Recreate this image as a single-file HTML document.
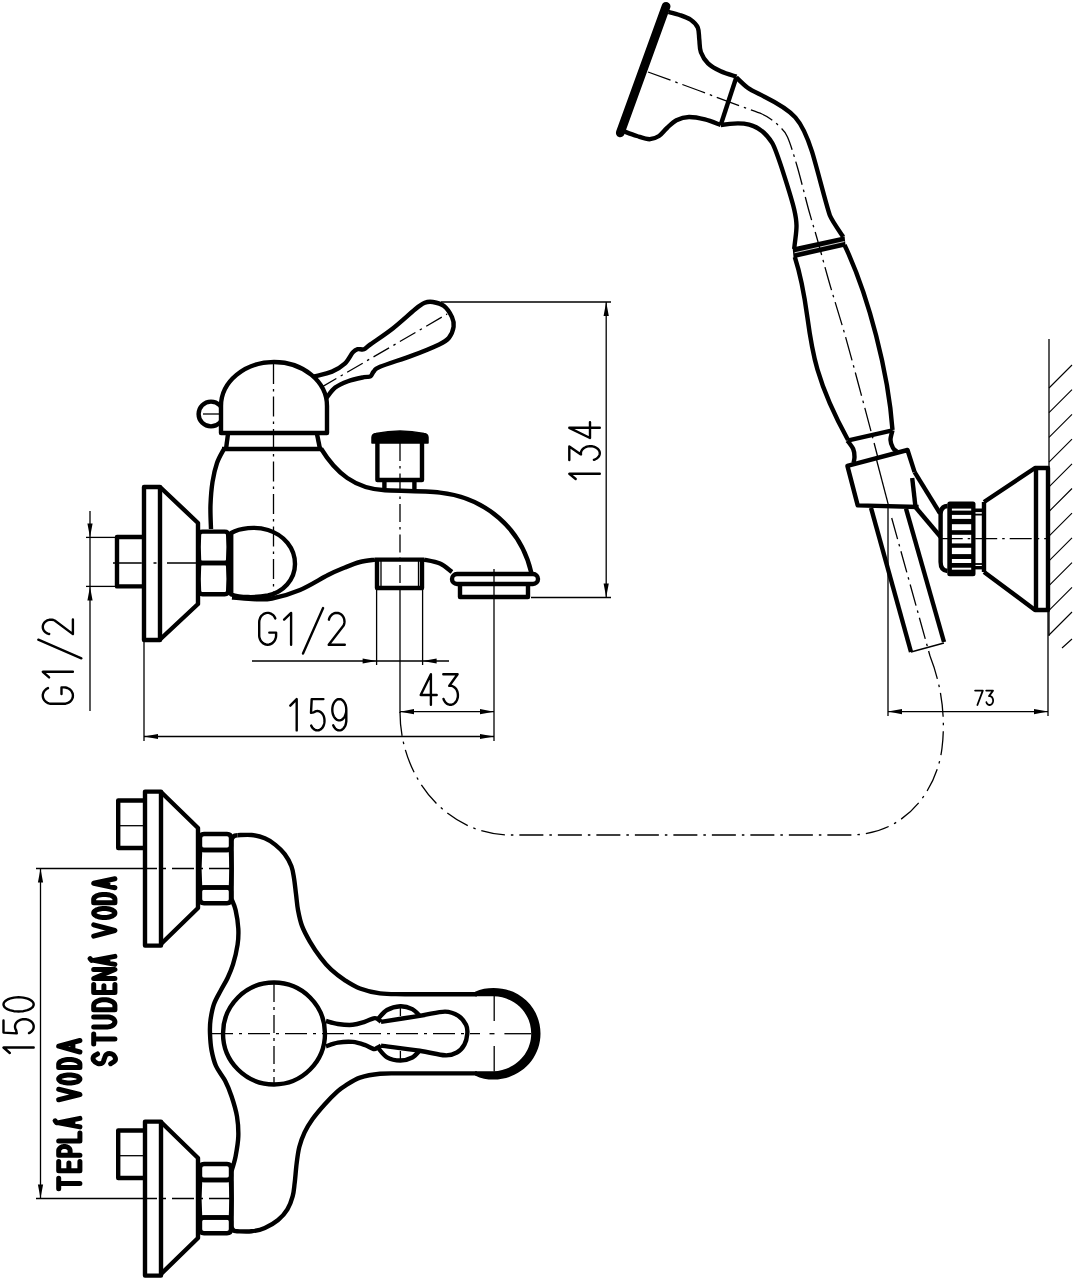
<!DOCTYPE html>
<html><head><meta charset="utf-8"><style>
html,body{margin:0;padding:0;background:#fff;width:1075px;height:1280px;overflow:hidden;font-family:"Liberation Sans",sans-serif;}
svg{display:block}
</style></head><body>
<svg width="1075" height="1280" viewBox="0 0 1075 1280" stroke="#000" fill="none" stroke-linejoin="round">
<rect x="0" y="0" width="1075" height="1280" fill="#fff" stroke="none"/>
<path d="M143,537 L117,537 L117,586.4 L143,586.4" stroke-width="4.4" fill="none"/>
<path d="M144,487 L160,487 L160,640 L144,640Z" stroke-width="4.4" fill="none"/>
<path d="M160,487 L198,523 L198,604 L160,639.5" stroke-width="4.4" fill="none"/>
<path d="M202.5,531.6 H224.7 Q228.2,531.6 228.2,535.1 Q229,547.3 228.2,559.5 Q228.2,563 224.7,563 H202.5 Q199,563 199,559.5 Q198.2,547.3 199,535.1 Q199,531.6 202.5,531.6Z" stroke-width="4.4" fill="none"/>
<path d="M202.5,563 H224.7 Q228.2,563 228.2,566.5 Q229,578.6 228.2,590.7 Q228.2,594.2 224.7,594.2 H202.5 Q199,594.2 199,590.7 Q198.2,578.6 199,566.5 Q199,563 202.5,563Z" stroke-width="4.4" fill="none"/>
<path d="M211,529 C210.9,525 210.2,512.8 210.5,505 C210.8,497.2 211.4,489 212.5,482 C213.6,475 215.1,468.5 217,463 C218.9,457.5 222.8,451.3 224,449" stroke-width="4.4" fill="none"/>
<path d="M228,434 L226,449" stroke-width="4.4" fill="none"/>
<path d="M317,434 L320,449" stroke-width="4.4" fill="none"/>
<path d="M222,449 L322,449" stroke-width="4.4" fill="none"/>
<circle cx="211" cy="414" r="12.4" stroke-width="4.4" fill="#fff"/>
<path d="M203,414 L222,414" stroke-width="1.3"/>
<path d="M221,433 V406 A53,44 0 0 1 327,406 V433 Z" stroke-width="4.4" fill="#fff"/>
<path d="M314.4,376.4 C317.3,375.6 326.9,373.7 332,371.6 C337.1,369.5 341.3,366.8 344.8,363.6 C348.3,360.4 350.7,354.8 352.8,352.4 C354.9,350 355.7,349.7 357.6,349.2 C359.5,348.7 361.9,350 364,349.2 C366.1,348.4 365.6,347.9 370.4,344.4 C375.2,340.9 385.3,334.3 392.8,328.4 C400.3,322.5 409.9,313.5 415.2,309.2 C420.5,304.9 421.9,304 424.8,302.8 C427.7,301.6 429.6,301.5 432.8,302 C436,302.5 440.8,303.5 444,306 C447.2,308.5 450.4,313.7 452,317.2 C453.6,320.7 454.1,323.3 453.6,326.8 C453.1,330.3 451.2,335.1 448.8,338 C446.4,340.9 445.3,341.5 439.2,344.4 C433.1,347.3 421.9,351.9 412,355.6 C402.1,359.3 386.4,364.1 380,366.8 C373.6,369.5 375.2,370 373.6,371.6 C372,373.2 372,375.5 370.4,376.4 C368.8,377.3 367.7,376.4 364,377.2 C360.3,378 352.8,379.5 348,381.2 C343.2,382.9 338.8,384.8 335.2,387.6 C331.6,390.4 327.9,396.3 326.5,398" stroke-width="4.4" fill="none"/>
<path d="M320.8,387.6 L447.2,314" stroke-width="1.3" fill="none" stroke-dasharray="18 5 2.5 5"/>
<path d="M321,448.5 C336,473.1 354.8,488.6 385,490.3 C395.5,490.9 425.8,491 440,492.6 C485.8,497.7 521.2,528.4 531.4,573" stroke-width="4.4" fill="none"/>
<path d="M372,443 V437.5 Q372,434 376,433.5 Q400,428.5 424,433.5 Q428,434 428,437.5 V443 Z" fill="#000" stroke="#000" stroke-width="1.5"/>
<path d="M377.4,443 L377.4,480 L422,480 L422,443" stroke-width="4.4" fill="none"/>
<path d="M384.4,480 L384.4,490" stroke-width="4.4" fill="none"/>
<path d="M414.4,480 L414.4,491" stroke-width="4.4" fill="none"/>
<path d="M231.2,533 C240,528 255,526 268,530 C284,535 295,548 295,564 C295,580 283,592 268,595.5 C255,598 240,597.5 231.2,594.5 Z" stroke-width="4.4" fill="none"/>
<path d="M232,597.5 C235.3,597.8 245.3,598.8 252,599 C258.7,599.2 264,600 272,598.5 C280,597 290.7,593.9 300,590 C309.3,586.1 320.5,578.8 328,575 C335.5,571.2 339.7,569.7 345,567.5 C350.3,565.3 355,563.3 360,562 C365,560.7 372.5,560 375,559.6" stroke-width="4.4" fill="none"/>
<path d="M375,559.6 L424,559.6" stroke-width="4.4" fill="none"/>
<path d="M424,559.6 C426.7,560.2 435.3,561.4 440,563.5 C444.7,565.6 450,570.6 452,572" stroke-width="4.4" fill="none"/>
<path d="M377,559.6 L377,588 L422,588 L422,559.6" stroke-width="4.4" fill="none"/>
<path d="M381,561 L381,587" stroke-width="1.3"/>
<path d="M418.5,561 L418.5,587" stroke-width="1.3"/>
<path d="M457,574 H533 A5,5 0 0 1 533,584 H457 A5,5 0 0 1 457,574 Z" stroke-width="4.4" fill="#fff"/>
<path d="M460,586 L460,597 L528,597 L528,586" stroke-width="4.4" fill="none"/>
<path d="M273.5,364 V600" stroke-width="1.3" fill="none" stroke-dasharray="20 5 2.5 5"/>
<path d="M113,563 H196" stroke-width="1.3" fill="none" stroke-dasharray="28.8 11.7 3 10.5 29"/>
<path d="M400,443 V587" stroke-width="1.3" fill="none" stroke-dasharray="18 5 2.5 5"/>
<path d="M441,302 L611,302" stroke-width="1.3"/>
<path d="M531,597.5 L611,597.5" stroke-width="1.3"/>
<path d="M606.2,302 L606.2,597.5" stroke-width="1.3"/>
<path d="M606.2,302 L608.8,316 L603.6,316 Z" fill="#000" stroke="none"/>
<path d="M606.2,597.5 L603.6,583.5 L608.8,583.5 Z" fill="#000" stroke="none"/>
<path d="M376.6,589 L376.6,665" stroke-width="1.3"/>
<path d="M422.6,589 L422.6,665" stroke-width="1.3"/>
<path d="M252,661 L449,661" stroke-width="1.3"/>
<path d="M376.6,661 L362.6,663.6 L362.6,658.4 Z" fill="#000" stroke="none"/>
<path d="M422.6,661 L436.6,658.4 L436.6,663.6 Z" fill="#000" stroke="none"/>
<path d="M400,589 L400,713" stroke-width="1.3"/>
<path d="M494,569 L494,741" stroke-width="1.3"/>
<path d="M400,711.7 L494,711.7" stroke-width="1.3"/>
<path d="M400,711.7 L414,709.1 L414,714.3 Z" fill="#000" stroke="none"/>
<path d="M494,711.7 L480,714.3 L480,709.1 Z" fill="#000" stroke="none"/>
<path d="M144,641 L144,741" stroke-width="1.3"/>
<path d="M144,736.5 L494,736.5" stroke-width="1.3"/>
<path d="M144,736.5 L158,733.9 L158,739.1 Z" fill="#000" stroke="none"/>
<path d="M494,736.5 L480,739.1 L480,733.9 Z" fill="#000" stroke="none"/>
<path d="M86,537.4 L116,537.4" stroke-width="1.3"/>
<path d="M86,586.4 L116,586.4" stroke-width="1.3"/>
<path d="M90,511 L90,711" stroke-width="1.3"/>
<path d="M90,537.4 L87.4,523.4 L92.6,523.4 Z" fill="#000" stroke="none"/>
<path d="M90,586.4 L92.6,600.4 L87.4,600.4 Z" fill="#000" stroke="none"/>
<path d="M290.3,705.7 L296.7,699.1 L296.7,730.4 M323.4,699.1 L311.7,699.1 L311,712.9 L313.8,712.3 L315,711.6 L316.2,711.1 L317.4,711 L318.6,711.1 L319.8,711.6 L321,712.3 L322,713.3 L322.9,714.5 L323.6,715.8 L324.1,717.4 L324.4,719 L324.5,720.7 L324.4,722.4 L324.1,724 L323.6,725.6 L322.9,727 L322,728.2 L321,729.1 L319.8,729.8 L318.6,730.3 L317.4,730.4 L316.2,730.3 L315,729.8 L313.8,729.1 L312.8,728.2 L311.9,727 L311.2,725.6 M346.3,709.7 L346.2,707.9 L345.9,706.1 L345.4,704.4 L344.7,702.9 L343.8,701.6 L342.8,700.5 L341.7,699.7 L340.5,699.2 L339.3,699.1 L338.1,699.2 L336.9,699.7 L335.8,700.5 L334.8,701.6 L333.9,702.9 L333.2,704.4 L332.7,706.1 L332.4,707.9 L332.3,709.7 L332.4,711.6 L332.7,713.4 L333.2,715.1 L333.9,716.6 L334.8,717.9 L335.8,719 L336.9,719.8 L338.1,720.2 L339.3,720.4 L340.5,720.2 L341.7,719.8 L342.8,719 L343.8,717.9 L344.7,716.6 L345.4,715.1 L345.9,713.4 L346.2,711.6 L346.3,709.7 M346.3,709.7 L346.3,720.1 L346.3,721.6 L346,723 L345.7,724.5 L345.2,725.8 L344.5,727 L343.8,728 L343,728.9 L342.1,729.6 L341.1,730.1 L340.1,730.4 L339.1,730.4 L338.1,730.3 L337.1,729.9 L336.1,729.3 L335.3,728.6 L334.5,727.6 L333.8,726.5 L333.2,725.3" stroke-width="2.4" fill="none" stroke-linecap="round" stroke-linejoin="round"/>
<path d="M430.9,704.8 L430.9,674.2 L420.7,695 L436.7,695 M443.3,674.2 L457.6,674.2 L449.3,685.8 L449.3,685.9 L450.4,685.8 L451.5,685.9 L452.6,686.2 L453.6,686.7 L454.6,687.4 L455.5,688.3 L456.3,689.3 L456.9,690.5 L457.4,691.8 L457.7,693.1 L457.9,694.5 L457.9,696 L457.8,697.4 L457.4,698.7 L457,700 L456.3,701.2 L455.6,702.2 L454.7,703.1 L453.8,703.8 L452.7,704.4 L451.6,704.7 L450.5,704.8 L449.4,704.7 L448.3,704.4 L447.3,703.9 L446.3,703.2 L445.4,702.4 L444.7,701.3 L444,700.2 L443.5,698.9" stroke-width="2.4" fill="none" stroke-linecap="round" stroke-linejoin="round"/>
<path d="M275.3,618.4 L274.6,617 L273.7,615.7 L272.6,614.7 L271.4,613.9 L270.1,613.3 L268.7,612.9 L267.2,612.9 L265.8,613.1 L264.4,613.6 L263.2,614.3 L262,615.3 L261,616.4 L260.2,617.8 L259.7,619.3 L259.3,620.8 L259.2,622.4 L259.2,635.2 L259.3,637 L259.8,638.8 L260.6,640.5 L261.7,641.9 L262.9,643.1 L264.4,644 L266,644.5 L267.6,644.7 L269.3,644.5 L270.9,644 L272.4,643.1 L273.6,641.9 L274.7,640.5 L275.5,638.8 L276,637 L276.1,635.2 L276.1,632.6 L269.3,632.6 M284.1,619.6 L291.1,612.9 L291.1,644.7 M303,653.6 L323.1,608.1 M328.9,619.7 L329.3,618.3 L329.9,617 L330.7,615.8 L331.7,614.8 L332.8,614 L334,613.4 L335.3,613 L336.7,612.9 L338,613 L339.3,613.4 L340.5,614 L341.6,614.8 L342.6,615.9 L343.4,617.1 L344,618.4 L344.3,619.8 L344.5,621.3 L344.4,622.7 L344.1,624.2 L343.6,625.5 L328.7,644.7 L344.8,644.7" stroke-width="2.4" fill="none" stroke-linecap="round" stroke-linejoin="round"/>
<path d="M575.7,479 L569.3,473.8 L599.8,473.8 M569.3,460 L569.3,446.5 L580.9,454.4 L581,454.4 L580.9,453.3 L581,452.2 L581.3,451.2 L581.8,450.2 L582.5,449.3 L583.4,448.5 L584.4,447.8 L585.6,447.2 L586.8,446.7 L588.2,446.4 L589.6,446.2 L591,446.2 L592.4,446.3 L593.7,446.6 L595,447.1 L596.2,447.7 L597.2,448.4 L598.1,449.2 L598.8,450.1 L599.4,451.1 L599.7,452.1 L599.8,453.2 L599.7,454.2 L599.4,455.3 L598.9,456.3 L598.2,457.2 L597.4,458 L596.3,458.7 L595.2,459.3 L593.9,459.8 M599.8,427.8 L569.3,427.8 L590,438 L590,422.1" stroke-width="2.4" fill="none" stroke-linecap="round" stroke-linejoin="round"/>
<path d="M48,688.1 L46.7,688.8 L45.5,689.7 L44.5,690.8 L43.7,692 L43.2,693.3 L42.8,694.6 L42.8,696 L43,697.4 L43.4,698.7 L44.1,699.9 L45.1,701.1 L46.2,702 L47.4,702.8 L48.8,703.4 L50.3,703.7 L51.8,703.8 L63.9,703.8 L65.6,703.7 L67.3,703.2 L68.9,702.4 L70.3,701.4 L71.4,700.2 L72.2,698.7 L72.8,697.2 L72.9,695.6 L72.8,694 L72.2,692.5 L71.4,691 L70.3,689.8 L68.9,688.8 L67.3,688 L65.6,687.5 L63.9,687.4 L61.5,687.4 L61.5,694 M49.1,677.4 L42.8,671.8 L72.9,671.8 M81.4,658.3 L38.3,639.7 M49.2,634 L47.9,633.6 L46.6,633.1 L45.5,632.3 L44.6,631.4 L43.8,630.4 L43.2,629.3 L42.9,628.1 L42.8,626.8 L42.9,625.6 L43.3,624.4 L43.9,623.3 L44.6,622.3 L45.6,621.4 L46.7,620.7 L48,620.2 L49.3,619.8 L50.7,619.7 L52.1,619.8 L53.5,620 L54.7,620.5 L72.9,634.1 L72.9,619.4" stroke-width="2.4" fill="none" stroke-linecap="round" stroke-linejoin="round"/>
<path d="M975.1,690.6 L982.8,690.6 L977.4,705 M986.2,690.6 L993,690.6 L989,696.1 L989.1,696.1 L989.6,696.1 L990.1,696.1 L990.6,696.3 L991.1,696.5 L991.5,696.8 L992,697.2 L992.3,697.7 L992.6,698.3 L992.8,698.9 L993,699.5 L993.1,700.2 L993.1,700.8 L993,701.5 L992.9,702.1 L992.6,702.7 L992.4,703.3 L992,703.8 L991.6,704.2 L991.1,704.5 L990.7,704.8 L990.2,704.9 L989.6,705 L989.1,705 L988.6,704.8 L988.1,704.6 L987.7,704.2 L987.2,703.8 L986.9,703.4 L986.6,702.8 L986.4,702.2" stroke-width="1.8" fill="none" stroke-linecap="round" stroke-linejoin="round"/>
<path d="M9.8,1053 L3.5,1047.5 L33.7,1047.5 M3.5,1020.4 L3.5,1032.6 L16.8,1033.4 L16.2,1030.4 L15.5,1029.2 L15.1,1027.9 L15,1026.6 L15.1,1025.4 L15.5,1024.1 L16.2,1022.9 L17.2,1021.8 L18.3,1020.9 L19.7,1020.2 L21.1,1019.6 L22.7,1019.3 L24.3,1019.2 L26,1019.3 L27.6,1019.6 L29,1020.2 L30.4,1020.9 L31.5,1021.8 L32.5,1022.9 L33.2,1024.1 L33.6,1025.4 L33.7,1026.6 L33.6,1027.9 L33.2,1029.2 L32.5,1030.4 L31.5,1031.5 L30.4,1032.4 L29,1033.1 M3.5,1004.4 L3.7,1005.5 L4.2,1006.6 L5.1,1007.6 L6.4,1008.6 L7.9,1009.4 L9.7,1010.2 L11.7,1010.7 L13.9,1011.2 L16.2,1011.4 L18.6,1011.5 L21,1011.4 L23.3,1011.2 L25.5,1010.7 L27.5,1010.2 L29.3,1009.4 L30.8,1008.6 L32.1,1007.6 L33,1006.6 L33.5,1005.5 L33.7,1004.4 L33.5,1003.3 L33,1002.2 L32.1,1001.2 L30.8,1000.2 L29.3,999.4 L27.5,998.6 L25.5,998.1 L23.3,997.6 L21,997.4 L18.6,997.3 L16.2,997.4 L13.9,997.6 L11.7,998.1 L9.7,998.6 L7.9,999.4 L6.4,1000.2 L5.1,1001.2 L4.2,1002.2 L3.7,1003.3 L3.5,1004.4" stroke-width="2.4" fill="none" stroke-linecap="round" stroke-linejoin="round"/>
<path d="M666.1,6.3 L620.3,132.8" stroke-width="8.8" stroke-linecap="round"/>
<path d="M668.5,11.9 C670.4,12.4 675.9,13.7 679.6,15 C683.3,16.3 687.7,17.7 690.7,19.8 C693.7,21.9 696.4,24.4 697.8,27.7 C699.2,31 698.8,35.4 699.3,39.5 C699.8,43.6 699.4,48.2 700.9,52.2 C702.4,56.2 704.7,60.1 708,63.3 C711.3,66.5 716,69 720.7,71.2 C725.5,73.4 733.9,75.8 736.5,76.7" stroke-width="4.4" fill="none"/>
<path d="M736.5,76.7 L720.7,125" stroke-width="4.4" fill="none"/>
<path d="M624,131.3 C626.1,132.1 632.6,134.7 636.9,136 C641.1,137.3 645.8,139.2 649.5,139.2 C653.2,139.2 656.1,137.9 659,136 C661.9,134.1 664.1,130.6 667,128 C669.9,125.4 672.7,122 676.4,120.2 C680.1,118.4 684.2,117.1 689,117 C693.8,116.9 699.6,118.1 704.9,119.4 C710.2,120.7 718.1,124.1 720.7,125" stroke-width="4.4" fill="none"/>
<path d="M736.3,77.4 C749.2,90.1 748,88.5 764.5,96.7 C793.6,111.2 801.7,119 812,151.7 C816.1,164.6 827.2,208.8 829.9,215.5 C832.2,221.2 840,232 843.2,236.8" stroke-width="4.4" fill="none"/>
<path d="M720.7,125 C741.5,121.6 758.7,121.5 772,142.7 C777,150.6 792.1,200.4 794.2,209.5 C798.4,227.6 795.9,231.3 794.2,249" stroke-width="4.4" fill="none"/>
<path d="M792.6,247.6 L844.6,236.2 L845.6,246.6 L793.6,258.2 Z" fill="#000" stroke="none"/>
<path d="M794.5,252.8 L844.5,241.5" stroke-width="0.8" stroke="#fff"/>
<path d="M794.8,257 C815.8,321.6 798,349.7 848,440" stroke-width="4.4" fill="none"/>
<path d="M844.5,245 C868.7,295.9 888.5,373.4 892.5,430" stroke-width="4.4" fill="none"/>
<path d="M847.4,440.6 L892.5,430.3" stroke-width="4.4" fill="none"/>
<path d="M847.4,440.6 C848.4,442 852,446.3 853.2,449 C854.4,451.7 854.5,454.7 854.5,457 C854.5,459.3 853.7,462 853.5,463" stroke-width="4.4" fill="none"/>
<path d="M892.5,430.3 C892.2,431.9 890.4,437.1 890.5,440 C890.6,442.9 891.9,446.1 893,448 C894.1,449.9 896.3,451 897,451.6" stroke-width="4.4" fill="none"/>
<path d="M914.6,472.2 L907.5,450 L847.4,465.9 L857.7,505.4 L918.6,507" stroke-width="4.4" fill="none"/>
<path d="M912.2,478 L915.4,506.2" stroke-width="4.4" fill="none"/>
<path d="M914.6,472.2 L940,513.3" stroke-width="4.4" fill="none"/>
<path d="M915.4,507 L940.7,537" stroke-width="4.4" fill="none"/>
<path d="M871,507.8 L911,652" stroke-width="4.4" fill="none"/>
<path d="M906,508.6 L944,642" stroke-width="4.4" fill="none"/>
<path d="M911,652 L944,643" stroke-width="1.3"/>
<path d="M648,72 C656.7,75.2 684.7,85.3 700,91 C715.3,96.7 729.7,102.2 740,106 C750.3,109.8 756.7,111.7 762,114 C767.3,116.3 769,117.8 772,120 C775,122.2 777.4,124.2 780,127 C782.6,129.8 784.6,130.4 787.5,137 C790.4,143.6 793.6,154.2 797.2,166.5 C800.8,178.8 805.6,198.8 809,211 C812.4,223.2 814,227.7 817.5,240 C821,252.3 825.4,269.2 830,285 C834.6,300.8 840,317.5 845,335 C850,352.5 855.5,373.3 860,390 C864.5,406.7 869,423.7 872,435 C875,446.3 877,454.2 878,458" stroke-width="1.3" fill="none" stroke-dasharray="24 5 2.5 5"/>
<path d="M876.6,460 L888.5,505.4" stroke-width="1.3"/>
<path d="M891.7,518 L930,656" stroke-width="1.3" fill="none" stroke-dasharray="22 5 2.5 5"/>
<path d="M947.5,506 Q940.6,506.5 940.6,514 V562 Q940.6,570.5 947.5,571" stroke-width="4.4" fill="none"/>
<path d="M984,502 L984,572" stroke-width="4.4" fill="none"/>
<path d="M984,502 L1035,468 L1048,468 L1048,610 L1035,610 L984,572" stroke-width="4.4" fill="none"/>
<path d="M1036,468 L1036,610" stroke-width="4.4" fill="none"/>
<path d="M975,510.3 L984,510.3" stroke-width="3.6"/>
<path d="M975,514.6 L984,514.6" stroke-width="1.8"/>
<path d="M975,564 L984,564" stroke-width="1.8"/>
<path d="M975,567.7 L984,567.7" stroke-width="3.4"/>
<rect x="947.3" y="501.6" width="28.2" height="74.7" rx="2.5" fill="#000" stroke="none"/>
<rect x="951.9" y="508.6" width="19.3" height="2" fill="#fff" stroke="none"/>
<rect x="951.9" y="514.9" width="19.3" height="4" fill="#fff" stroke="none"/>
<rect x="951.9" y="524.2" width="19.3" height="6" fill="#fff" stroke="none"/>
<rect x="951.9" y="534.8" width="19.3" height="8.6" fill="#fff" stroke="none"/>
<rect x="951.9" y="547.8" width="19.3" height="6.3" fill="#fff" stroke="none"/>
<rect x="951.9" y="559" width="19.3" height="4" fill="#fff" stroke="none"/>
<rect x="951.9" y="567.7" width="19.3" height="2" fill="#fff" stroke="none"/>
<path d="M940.7,538.6 H1047" stroke-width="1.3" fill="none" stroke-dasharray="22 5 2.5 5"/>
<path d="M1049,339 L1049,636" stroke-width="1.3"/>
<path d="M1049,388 L1072,365 M1049,412.7 L1072,389.7 M1049,437.4 L1072,414.4 M1049,462.1 L1072,439.1 M1049,486.8 L1072,463.8 M1049,511.5 L1072,488.5 M1049,536.2 L1072,513.2 M1049,560.9 L1072,537.9 M1049,585.6 L1072,562.6 M1049,610.3 L1072,587.3 M1049,635 L1072,612 M1062,648 L1072,639" stroke-width="1.1"/>
<path d="M888,505 L888,716" stroke-width="1.3"/>
<path d="M1048,612 L1048,716" stroke-width="1.3"/>
<path d="M888,711.6 L1048,711.6" stroke-width="1.3"/>
<path d="M888,711.6 L902,709 L902,714.2 Z" fill="#000" stroke="none"/>
<path d="M1048,711.6 L1034,714.2 L1034,709 Z" fill="#000" stroke="none"/>
<path d="M930,656 C941,684 946,716 942,748 C937,790 905,835 850,835 L510,835 A110,123 0 0 1 400,712" stroke-width="1.3" fill="none" stroke-dasharray="24 6 2.5 6"/>
<path d="M143,800.5 L118.2,800.5 L118.2,848 L143,848" stroke-width="4.4" fill="none"/>
<path d="M118.2,825.7 L143,825.7" stroke-width="1.3"/>
<path d="M145,791.6 L161,791.6 L161,945.6 L145,945.6Z" stroke-width="4.4" fill="none"/>
<path d="M161,792 L198,828 L198,908 L161,944" stroke-width="4.4" fill="none"/>
<path d="M204,834 H227 Q231,834 231,838 Q231,842 231,846 Q231,850 227,850 H204 Q200,850 200,846 Q200,842 200,838 Q200,834 204,834Z" stroke-width="4.4" fill="none"/>
<path d="M202,850 H229 Q231,850 231,852 Q232.2,868.8 231,885.5 Q231,887.5 229,887.5 H202 Q200,887.5 200,885.5 Q198.8,868.8 200,852 Q200,850 202,850Z" stroke-width="4.4" fill="none"/>
<path d="M204,887.5 H227 Q231,887.5 231,891.5 Q231,895.4 231,899.3 Q231,903.3 227,903.3 H204 Q200,903.3 200,899.3 Q200,895.4 200,891.5 Q200,887.5 204,887.5Z" stroke-width="4.4" fill="none"/>
<path d="M36,868.5 L135,868.5" stroke-width="1.3"/>
<path d="M135,868.5 H232" stroke-width="1.3" fill="none" stroke-dasharray="22 6 3 6"/>
<path d="M143,1130.5 L118.2,1130.5 L118.2,1178 L143,1178" stroke-width="4.4" fill="none"/>
<path d="M118.2,1155.7 L143,1155.7" stroke-width="1.3"/>
<path d="M145,1121.6 L161,1121.6 L161,1275.6 L145,1275.6Z" stroke-width="4.4" fill="none"/>
<path d="M161,1122 L198,1158 L198,1238 L161,1274" stroke-width="4.4" fill="none"/>
<path d="M204,1164 H227 Q231,1164 231,1168 Q231,1172 231,1176 Q231,1180 227,1180 H204 Q200,1180 200,1176 Q200,1172 200,1168 Q200,1164 204,1164Z" stroke-width="4.4" fill="none"/>
<path d="M202,1180 H229 Q231,1180 231,1182 Q232.2,1198.8 231,1215.5 Q231,1217.5 229,1217.5 H202 Q200,1217.5 200,1215.5 Q198.8,1198.8 200,1182 Q200,1180 202,1180Z" stroke-width="4.4" fill="none"/>
<path d="M204,1217.5 H227 Q231,1217.5 231,1221.5 Q231,1225.4 231,1229.3 Q231,1233.3 227,1233.3 H204 Q200,1233.3 200,1229.3 Q200,1225.4 200,1221.5 Q200,1217.5 204,1217.5Z" stroke-width="4.4" fill="none"/>
<path d="M36,1198.5 L135,1198.5" stroke-width="1.3"/>
<path d="M135,1198.5 H232" stroke-width="1.3" fill="none" stroke-dasharray="22 6 3 6"/>
<path d="M231.6,899 V841 Q231.6,835.2 237.5,835.2" stroke-width="4.4" fill="none"/>
<path d="M237.5,835.2 C239.8,835.2 246.9,834.5 251.5,835 C256.1,835.5 260.8,836.6 264.8,838.3 C268.8,839.9 272.1,842.2 275.4,844.9 C278.7,847.5 282,850.7 284.7,854.2 C287.4,857.8 289.8,862.2 291.4,866.2 C292.9,870.2 293.2,873.5 294,878.1 C294.8,882.7 295.3,888.7 296,894 C296.7,899.3 297,904.7 298,910 C299,915.3 300,920.6 302,925.9 C304,931.2 306.9,936.5 310,941.8 C313.1,947.1 317.1,953.1 320.6,957.7 C324.1,962.4 327.1,965.9 331.2,969.7 C335.3,973.5 340.2,977.2 345,980.3 C349.8,983.4 354.2,986.3 360,988.5 C365.8,990.7 372.5,992.4 380,993.4 C387.5,994.4 388.8,994.1 405,994.2 C421.2,994.3 465,994.2 477,994.2" stroke-width="4.4" fill="none"/>
<path d="M231.6,899.3 C232.3,901.1 234.5,905.1 235.6,910 C236.7,914.9 238,922.8 238.3,928.5 C238.6,934.2 238.5,938.5 237.6,944.5 C236.7,950.5 234.7,958.9 233,964.4 C231.3,969.9 229.7,973.4 227.7,977.7 C225.7,982 223.3,985.6 221,990 C218.7,994.4 215.8,999 214,1004 C212.2,1009 211.2,1015.1 210.5,1020 C209.8,1024.9 209.8,1028.6 210,1033.6 C210.2,1038.6 210.5,1044.6 211.5,1050 C212.5,1055.4 213.8,1060.9 216,1066 C218.2,1071.1 222.4,1075.5 225,1080.6 C227.6,1085.7 229.6,1090.5 231.6,1096.5 C233.6,1102.5 235.9,1109.8 237,1116.5 C238.1,1123.2 238.5,1129.8 238.3,1136.4 C238.1,1143 236.7,1150.5 235.6,1156.3 C234.5,1162 232.3,1168.5 231.6,1170.9" stroke-width="4.4" fill="none"/>
<path d="M231.6,1166 V1226 Q231.6,1231.3 237,1231.3" stroke-width="4.4" fill="none"/>
<path d="M237,1231.3 C239.4,1231.3 246.9,1231.8 251.5,1231.3 C256.1,1230.8 260.4,1229.9 264.8,1228 C269.2,1226.1 274.3,1223.1 278.1,1220 C281.9,1216.9 285,1213.4 287.4,1209.4 C289.8,1205.4 291.5,1200.5 292.7,1196.1 C293.9,1191.7 294,1188.3 294.7,1182.8 C295.4,1177.3 295.9,1169 296.7,1163 C297.5,1157 298,1152.1 299.3,1147 C300.6,1141.9 302.4,1137.1 304.6,1132.4 C306.8,1127.8 309.3,1123.8 312.6,1119.1 C315.9,1114.4 320.4,1109.2 324.6,1104.5 C328.8,1099.8 334.4,1094.3 337.8,1091.2 C341.2,1088.1 341.3,1088 345,1085.8 C348.7,1083.5 354.2,1079.7 360,1077.7 C365.8,1075.7 372.5,1074.5 380,1073.8 C387.5,1073.1 388.8,1073.5 405,1073.4 C421.2,1073.3 465,1073.4 477,1073.4" stroke-width="4.4" fill="none"/>
<path d="M475,991.7 C481,989 487,988 493.5,988 C520,988 540.5,1008 540.5,1033.6 C540.5,1059 520,1079.6 493.5,1079.6 C487,1079.6 481,1078.5 475,1075.4 L475,1071.3 L493.5,1071.3 C515,1070.5 531.2,1054 531.2,1033.6 C531.2,1013 515,996.8 493.5,996.3 L475,996.3 Z" fill="#000" stroke="none"/>
<path d="M494.2,996 L494.2,1021" stroke-width="1.3"/>
<path d="M494.2,1046 L494.2,1071.5" stroke-width="1.3"/>
<path d="M489.5,1033.7 L494.5,1033.7" stroke-width="1.3"/>
<circle cx="274" cy="1033.5" r="51" stroke-width="4.4" fill="none"/>
<path d="M326,1021 C328,1021.5 333.4,1023.4 337.9,1024 C342.3,1024.6 348.2,1025.2 352.7,1024.8 C357.1,1024.4 361.1,1022.9 364.6,1021.8 C368.1,1020.7 371.5,1018.8 373.6,1018.3 C375.7,1017.8 376.1,1018.2 377.3,1018.8 C378.5,1019.4 380.4,1021.3 381,1021.8" stroke-width="4.4" fill="none"/>
<path d="M326,1046.3 C328,1045.7 333.4,1043.3 337.9,1042.6 C342.3,1041.9 348.2,1041.5 352.7,1041.9 C357.1,1042.3 361.1,1043.7 364.6,1044.9 C368.1,1046.1 371.5,1048.5 373.6,1049 C375.7,1049.5 376.1,1048.4 377.3,1047.8 C378.5,1047.2 380.4,1046 381,1045.6" stroke-width="4.4" fill="none"/>
<path d="M381,1021.8 C387.4,1020.8 409,1017.5 419.7,1015.8 C430.4,1014.1 438.6,1011.6 445,1011.6 C451.4,1011.6 454.9,1013.6 458.4,1015.8 C461.9,1018 464.5,1021.8 466,1024.8 C467.5,1027.8 467.6,1030.4 467.3,1033.7 C467,1037 466.1,1041.5 464.4,1044.6 C462.7,1047.7 460.1,1050.7 456.9,1052.5 C453.7,1054.3 451.2,1055.6 445,1055.3 C438.8,1055 430.4,1052.4 419.7,1050.8 C409,1049.2 387.4,1046.5 381,1045.6" stroke-width="4.4" fill="none"/>
<path d="M378,1019 C379.5,1017.5 383.3,1012.1 387,1010 C390.7,1007.9 396.2,1006.4 400.4,1006.2 C404.6,1006.1 409.1,1007.5 412.3,1009.1 C415.5,1010.7 418.5,1014.7 419.7,1015.8" stroke-width="4.4" fill="none"/>
<path d="M378,1047.8 C379.5,1049.4 383.3,1055.2 387,1057.3 C390.7,1059.4 396.2,1060.5 400.4,1060.5 C404.6,1060.5 409.1,1059.2 412.3,1057.5 C415.5,1055.8 418.5,1051.7 419.7,1050.5" stroke-width="4.4" fill="none"/>
<path d="M400.4,1008 L400.4,1016" stroke-width="1.3"/>
<path d="M400.4,1051 L400.4,1059" stroke-width="1.3"/>
<path d="M211,1033.7 H480" stroke-width="1.3" fill="none" stroke-dasharray="22 6 3 6"/>
<path d="M504.4,1033.7 L531.2,1033.7" stroke-width="1.3"/>
<path d="M274,984 V1085" stroke-width="1.3" fill="none" stroke-dasharray="18 5 3 5"/>
<path d="M40.5,868.5 L40.5,1198.5" stroke-width="1.3"/>
<path d="M40.5,868.5 L43.1,882.5 L37.9,882.5 Z" fill="#000" stroke="none"/>
<path d="M40.5,1198.5 L37.9,1184.5 L43.1,1184.5 Z" fill="#000" stroke="none"/>
<path d="M97.5,1054 C96.9,1054.4 94.3,1055.3 93.7,1056.4 C93.1,1057.5 93,1059.5 93.7,1060.6 C94.4,1061.8 96.5,1063.2 97.9,1063.6 C99.4,1063.9 101.5,1063.5 102.6,1062.7 C103.7,1061.9 103.7,1060.1 104.3,1058.8 C104.9,1057.4 105.2,1055.4 106.4,1054.5 C107.6,1053.7 110.1,1053.5 111.5,1053.9 C112.9,1054.3 114.3,1055.7 114.9,1056.9 C115.5,1058 115.6,1059.7 114.9,1060.8 C114.2,1062 111.4,1063.2 110.7,1063.7 M93.7,1044.1 L93.7,1034.1 M93.7,1039.1 L114.9,1039.1 M93.7,1026.9 L107.3,1026.9 L108.6,1026.8 L109.9,1026.6 L111.1,1026.2 L112.2,1025.7 L113.1,1025.1 L113.9,1024.4 L114.4,1023.6 L114.8,1022.8 L114.9,1021.9 L114.8,1021 L114.4,1020.2 L113.9,1019.4 L113.1,1018.7 L112.2,1018.1 L111.1,1017.6 L109.9,1017.2 L108.6,1017 L107.3,1016.9 L93.7,1016.9 M93.7,1005.5 L93.7,1009.7 L114.9,1009.7 L114.9,1005.5 L114.7,1004.5 L114.3,1003.5 L113.5,1002.6 L112.4,1001.8 L111.1,1001.1 L109.6,1000.5 L107.9,1000 L106.1,999.8 L104.3,999.7 L102.5,999.8 L100.7,1000 L99,1000.5 L97.5,1001.1 L96.2,1001.8 L95.1,1002.6 L94.3,1003.5 L93.9,1004.5 L93.7,1005.5 M93.7,984.5 L93.7,992.5 L114.9,992.5 L114.9,984.5 M103.9,992.5 L103.9,985.7 M114.9,978.5 L93.7,978.5 L114.9,969.5 L93.7,969.5 M114.9,964.4 L93.7,960.4 L114.9,956.4 M107.9,962.8 L107.9,958 M91.6,960.4 L90.1,958.6 M93.7,936.2 L114.9,930.5 L93.7,924.8 M93.7,913 L93.8,913.7 L94.2,914.4 L94.9,915 L95.7,915.6 L96.8,916.2 L98.1,916.6 L99.5,917 L101,917.3 L102.6,917.4 L104.3,917.5 L106,917.4 L107.6,917.3 L109.1,917 L110.5,916.6 L111.8,916.2 L112.9,915.6 L113.7,915 L114.4,914.4 L114.8,913.7 L114.9,913 L114.8,912.3 L114.4,911.6 L113.7,911 L112.9,910.4 L111.8,909.8 L110.5,909.4 L109.1,909 L107.6,908.7 L106,908.6 L104.3,908.5 L102.6,908.6 L101,908.7 L99.5,909 L98.1,909.4 L96.8,909.8 L95.7,910.4 L94.9,911 L94.2,911.6 L93.8,912.3 L93.7,913 M93.7,899.2 L93.7,902.7 L114.9,902.7 L114.9,899.2 L114.7,898.4 L114.3,897.6 L113.5,896.8 L112.4,896.1 L111.1,895.5 L109.6,895 L107.9,894.7 L106.1,894.5 L104.3,894.4 L102.5,894.5 L100.7,894.7 L99,895 L97.5,895.5 L96.2,896.1 L95.1,896.8 L94.3,897.6 L93.9,898.4 L93.7,899.2 M114.9,887.8 L93.7,883.3 L114.9,878.8 M107.9,886 L107.9,880.6" stroke-width="5" fill="none" stroke-linecap="round" stroke-linejoin="round"/>
<path d="M58.7,1188.8 L58.7,1178.3 M58.7,1183.5 L79.9,1183.5 M58.7,1161.5 L58.7,1170.7 L79.9,1170.7 L79.9,1161.5 M68.9,1170.7 L68.9,1162.9 M79.9,1155.2 L58.7,1155.2 L58.7,1150.9 L58.8,1150 L59.1,1149.2 L59.7,1148.4 L60.4,1147.8 L61.2,1147.2 L62.2,1146.8 L63.3,1146.6 L64.4,1146.5 L65.5,1146.6 L66.6,1146.8 L67.6,1147.2 L68.5,1147.8 L69.2,1148.4 L69.7,1149.2 L70,1150 L70.1,1150.9 L70.1,1155.2 M58.7,1141 L79.9,1141 L79.9,1133.1 M79.9,1126.9 L58.7,1122.7 L79.9,1118.4 M72.9,1125.2 L72.9,1120.1 M56.6,1122.7 L55.1,1120.8 M58.7,1099.8 L79.9,1094.5 L58.7,1089.3 M58.7,1079 L58.8,1079.6 L59.2,1080.2 L59.9,1080.8 L60.7,1081.4 L61.8,1081.8 L63.1,1082.2 L64.5,1082.6 L66,1082.8 L67.6,1083 L69.3,1083 L71,1083 L72.6,1082.8 L74.1,1082.6 L75.5,1082.2 L76.8,1081.8 L77.9,1081.4 L78.7,1080.8 L79.4,1080.2 L79.8,1079.6 L79.9,1079 L79.8,1078.4 L79.4,1077.8 L78.7,1077.2 L77.9,1076.6 L76.8,1076.2 L75.5,1075.8 L74.1,1075.4 L72.6,1075.2 L71,1075 L69.3,1075 L67.6,1075 L66,1075.2 L64.5,1075.4 L63.1,1075.8 L61.8,1076.2 L60.7,1076.6 L59.9,1077.2 L59.2,1077.8 L58.8,1078.4 L58.7,1079 M58.7,1064.1 L58.7,1067.5 L79.9,1067.5 L79.9,1064.1 L79.7,1063.3 L79.3,1062.6 L78.5,1061.8 L77.4,1061.2 L76.1,1060.6 L74.6,1060.1 L72.9,1059.8 L71.1,1059.6 L69.3,1059.5 L67.5,1059.6 L65.7,1059.8 L64,1060.1 L62.5,1060.6 L61.2,1061.2 L60.1,1061.8 L59.3,1062.6 L58.9,1063.3 L58.7,1064.1 M79.9,1052 L58.7,1046.2 L79.9,1040.5 M72.9,1049.7 L72.9,1042.8" stroke-width="5" fill="none" stroke-linecap="round" stroke-linejoin="round"/>
</svg>
</body></html>
